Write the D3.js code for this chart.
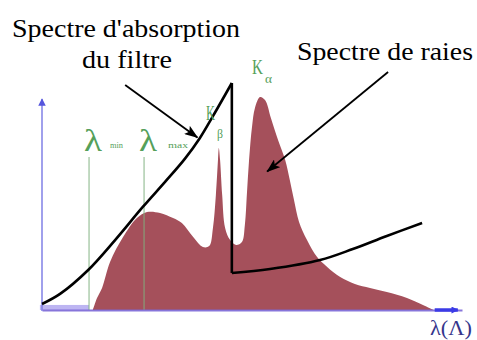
<!DOCTYPE html>
<script src="https://d3js.org/d3.v7.min.js"></script>
<style>
  body { margin: 0; background: white; }
  svg { display: block; }
  text { font-family: 'Liberation Serif', 'Times New Roman', Times, 'DejaVu Serif', serif; }
</style>
<html><body>
<svg width=477 height=340></svg>
<script>
// spectre emis (longueur d'onde / intensite, unites arbitraires)
var specX = [12.1, 13.1, 14.3, 16.2, 19.3, 22.6, 25.0, 28.1, 31.2, 33.3, 36.0, 38.3, 39.8, 40.7, 41.4, 41.9, 42.1, 42.4, 42.9, 43.6, 44.8, 46.2, 47.6, 48.3, 48.8, 49.3, 50.0, 50.7, 51.9, 53.1, 54.5, 56.2, 57.9, 59.0, 60.0, 61.2, 63.1, 65.5, 67.9, 71.0, 74.5, 78.1, 82.1, 86.9, 90.7, 93.3]
var specY = [0, 5.2, 9.6, 20.9, 31.7, 40.0, 42.6, 42.2, 40.0, 37.8, 31.7, 27.4, 27.8, 35.7, 50.0, 65.2, 70.4, 65.2, 50.0, 35.7, 30.4, 28.3, 29.6, 37.0, 50.9, 65.2, 79.6, 87.8, 92.6, 91.3, 83.5, 73.9, 65.2, 56.5, 47.8, 38.3, 30.4, 23.0, 18.7, 14.3, 11.3, 9.6, 7.8, 5.2, 2.2, 0]

// absorption du filtre, avant et apres le seuil
var filtreAvantX = [0, 4.3, 11.0, 17.4, 24.0, 29.3, 34.0, 37.6, 40.7, 45.2]
var filtreAvantY = [2.6, 7.0, 17.4, 30.4, 44.8, 55.7, 65.7, 74.8, 84.3, 98.7]
var filtreApresX = [45.2, 54.3, 66.2, 74.0, 82.1, 90.5]
var filtreApresY = [16.1, 17.8, 21.7, 26.5, 32.2, 37.8]

var lambdaMin = 11.2
var lambdaMax = 24.3
var hautLambda = 66.5

var x = d3.scaleLinear().domain([0, 100]).range([42, 462])
var y = d3.scaleLinear().domain([0, 100]).range([310, 80])

var svg = d3.select('svg')
var defs = svg.append('defs')
defs.append('marker').attr('id', 'fleche')
  .attr('viewBox', '0 0 14 10').attr('refX', 13).attr('refY', 5)
  .attr('markerWidth', 14).attr('markerHeight', 10).attr('orient', 'auto')
  .attr('markerUnits', 'userSpaceOnUse')
  .append('path').attr('d', 'M0,0 L14,5 L0,10 L3,5 Z').attr('fill', 'black')
defs.append('marker').attr('id', 'flecheAxe')
  .attr('viewBox', '0 0 10 10').attr('refX', 9).attr('refY', 5)
  .attr('markerWidth', 5).attr('markerHeight', 5).attr('orient', 'auto')
  .attr('markerUnits', 'strokeWidth')
  .append('path').attr('d', 'M0,0 L10,5 L0,10 Z').attr('fill', '#5555dd')
defs.append('marker').attr('id', 'flecheBout')
  .attr('viewBox', '0 0 10 10').attr('refX', 9).attr('refY', 5)
  .attr('markerWidth', 2.2).attr('markerHeight', 2).attr('orient', 'auto')
  .attr('markerUnits', 'strokeWidth')
  .append('path').attr('d', 'M0,0 L10,5 L0,10 Z').attr('fill', '#3b3be6')

// bande claire sous lambda min
svg.append('rect')
  .attr('x', x(-0.5)).attr('y', y(2.2))
  .attr('width', x(lambdaMin) - x(-0.5)).attr('height', y(0) - y(2.2))
  .attr('fill', '#bdb5f2')

var pts = specX.map(function(d, i) { return [d, specY[i]] })
var area = d3.area()
  .x(function(d) { return x(d[0]) })
  .y0(y(0))
  .y1(function(d) { return y(d[1]) })
  .curve(d3.curveCatmullRom.alpha(0.5))
svg.append('path').datum(pts)
  .attr('d', area)
  .attr('fill', '#a5505b')

// lignes verticales lambda min / max
svg.selectAll('line.lam')
  .data([lambdaMin, lambdaMax]).enter().append('line')
  .attr('class', 'lam')
  .attr('x1', function(d) { return x(d) }).attr('x2', function(d) { return x(d) })
  .attr('y1', y(hautLambda)).attr('y2', y(0))
  .attr('stroke', '#7fb07f').attr('stroke-opacity', 0.8).attr('stroke-width', 1.2)

// axes
var axeX = svg.append('g')
  .attr('transform', 'translate(0,' + y(0) + ')')
  .call(d3.axisBottom(x).tickValues([]).tickSizeOuter(0))
axeX.select('.domain').attr('stroke', '#7a66d6').attr('stroke-width', 2).attr('stroke-opacity', 0.9)

var axeY = svg.append('g')
  .attr('transform', 'translate(' + x(0) + ',0)')
  .call(d3.axisLeft(y.copy().domain([0, 93]).range([311, 97])).tickValues([]).tickSizeOuter(0))
axeY.select('.domain').attr('stroke', '#8080e6').attr('stroke-width', 1.5)
  .attr('d', 'M0,311V99').attr('marker-end', 'url(#flecheAxe)')

// bout de l'axe x
svg.append('line')
  .attr('x1', x(93.5)).attr('x2', x(99))
  .attr('y1', y(0)).attr('y2', y(0))
  .attr('stroke', '#3b3be6').attr('stroke-width', 3.5)
  .attr('marker-end', 'url(#flecheBout)')

// courbe d'absorption du filtre
var ligne = d3.line()
  .x(function(d) { return x(d[0]) })
  .y(function(d) { return y(d[1]) })
  .curve(d3.curveCatmullRom.alpha(0.5))
var avant = filtreAvantX.map(function(d, i) { return [d, filtreAvantY[i]] })
var apres = filtreApresX.map(function(d, i) { return [d, filtreApresY[i]] })
svg.append('path').datum(avant).attr('d', ligne)
  .attr('fill', 'none').attr('stroke', 'black').attr('stroke-width', 2.6)
svg.append('path').datum(apres).attr('d', ligne)
  .attr('fill', 'none').attr('stroke', 'black').attr('stroke-width', 2.6)
svg.append('path').datum([avant[avant.length - 1], apres[0]])
  .attr('d', d3.line().x(function(d) { return x(d[0]) }).y(function(d) { return y(d[1]) }))
  .attr('fill', 'none').attr('stroke', 'black').attr('stroke-width', 2.6)

// fleches d'annotation
var fleches = [[[19.8, 97.8], [37.0, 75.0]], [[82.4, 103.5], [53.6, 60.2]]]
svg.selectAll('line.fl')
  .data(fleches).enter().append('line')
  .attr('class', 'fl')
  .attr('x1', function(d) { return x(d[0][0]) }).attr('y1', function(d) { return y(d[0][1]) })
  .attr('x2', function(d) { return x(d[1][0]) }).attr('y2', function(d) { return y(d[1][1]) })
  .attr('stroke', 'black').attr('stroke-width', 1.8)
  .attr('marker-end', 'url(#fleche)')

// textes
function texte(t, px, py, taille, couleur, longueur) {
  var el = svg.append('text')
    .attr('x', px).attr('y', py)
    .style('font-size', taille + 'px')
    .attr('fill', couleur).text(t)
  if (longueur) el.attr('textLength', longueur).attr('lengthAdjust', 'spacingAndGlyphs')
  return el
}
texte("Spectre d'absorption", 12, 37, 25, 'black', 228)
texte('du filtre', 82, 68, 25, 'black', 90)
texte('Spectre de raies', 297, 60, 25, 'black', 176)

var vert = '#55a05a'
texte('\u03bb', 84, 151, 32, vert, 18)
texte('min', 110, 148, 9, vert, 13)
texte('\u03bb', 139, 151, 32, vert, 18)
texte('max', 168, 148, 9, vert, 20)

texte('K', 206, 120, 20, vert, 9)
texte('\u03b2', 217, 138, 13, vert, 6)
texte('K', 252, 74, 20, vert, 11)
texte('\u03b1', 265, 83, 12, vert, 7)

texte('\u03bb(\u039b)', 430, 335, 20, '#35358c', 42)
</script>
</body></html>
